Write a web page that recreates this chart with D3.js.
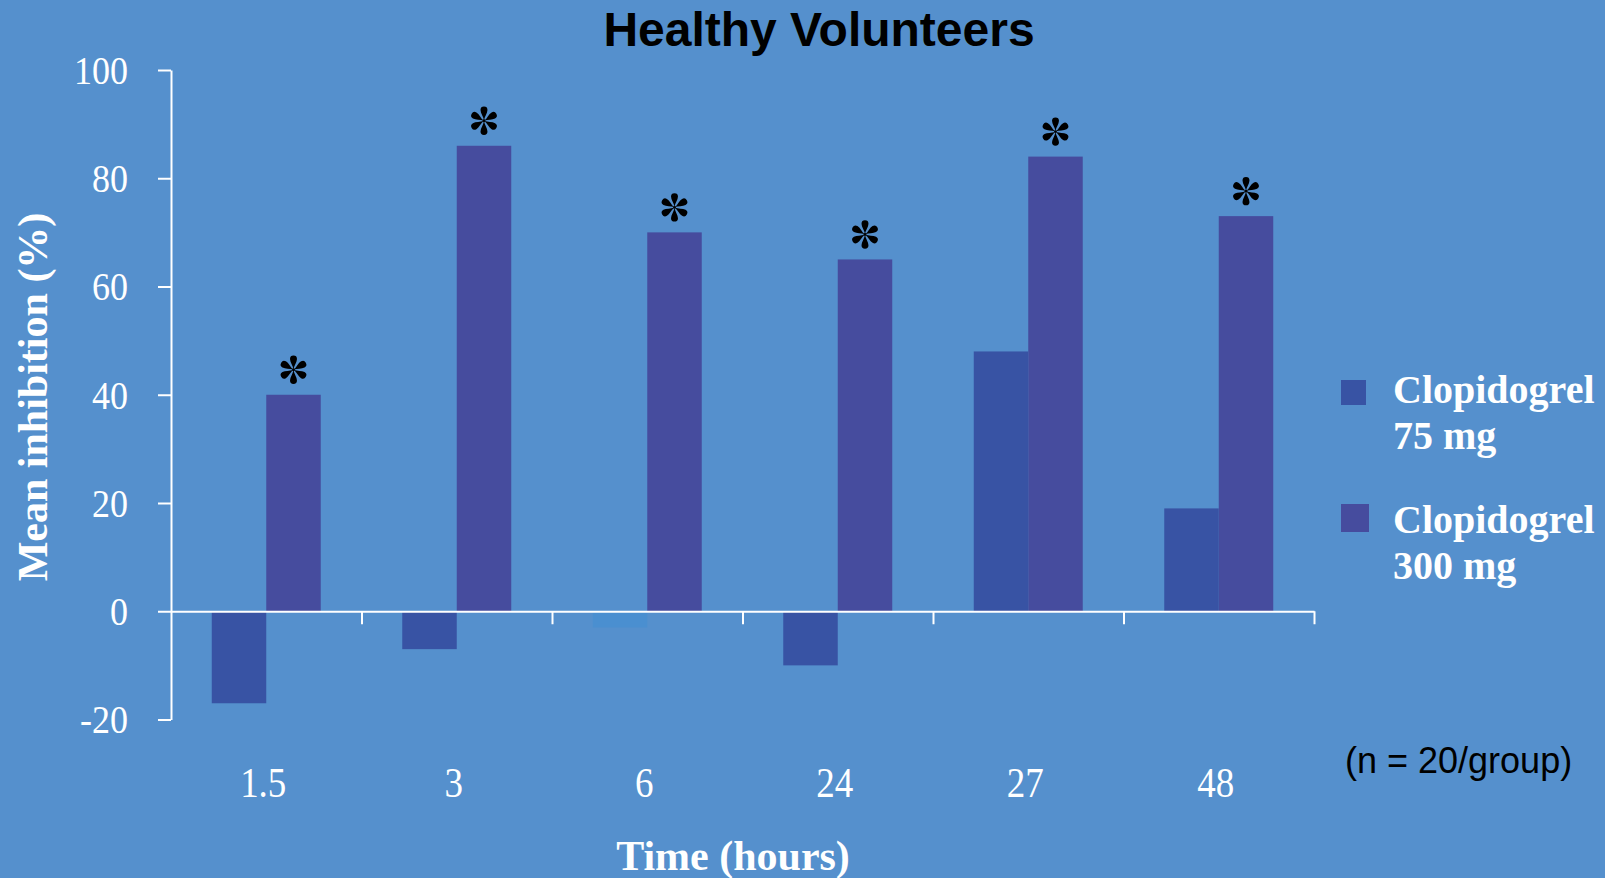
<!DOCTYPE html>
<html>
<head>
<meta charset="utf-8">
<script src="https://cdn.jsdelivr.net/npm/d3@7"></script>
<style>
  html, body { margin: 0; padding: 0; background: #5590cd; }
  svg { display: block; }
</style>
</head>
<body>
<svg id="chart" width="1605" height="878"></svg>
<script>
// Mean inhibition of platelet aggregation by time point and loading dose
const timepoints = ["1.5", "3", "6", "24", "27", "48"];
const dose75 = [-17, -7, -3, -10, 48, 19];
const dose300 = [40, 86, 70, 65, 84, 73];
const significant300 = [true, true, true, true, true, true];
const yTicks = [-20, 0, 20, 40, 60, 80, 100];
const seriesNames = ["Clopidogrel 75 mg", "Clopidogrel 300 mg"];

const W = 1605, H = 878;
const BG = "#5590cd";
const C75 = "#3853a4";
const C300 = "#464c9e";
const C75_FAINT = "#4a8fd0";   // the 6 h bar is rendered in a paler tone
const serif = "'Liberation Serif', 'Times New Roman', serif";
const sans = "'Liberation Sans', Arial, sans-serif";

const svg = d3.select("#chart");
svg.append("rect").attr("width", W).attr("height", H).attr("fill", BG);

const plot = { left: 171, right: 1314, top: 70, bottom: 719.5 };

const x = d3.scaleBand().domain(timepoints).range([plot.left, plot.right]).paddingInner(0).paddingOuter(0);
const xSub = d3.scaleBand().domain(["75", "300"]).range([0, x.bandwidth()]).paddingInner(0).paddingOuter(0.748);
const y = d3.scaleLinear().domain([-20, 100]).range([plot.bottom, plot.top]);

const rows = timepoints.map((t, i) => ({ t, v75: dose75[i], v300: dose300[i], sig: significant300[i] }));

// bars
const g = svg.append("g");
const groups = g.selectAll("g.grp").data(rows).join("g").attr("class", "grp")
  .attr("transform", d => `translate(${x(d.t)},0)`);

groups.append("rect")
  .attr("x", xSub("75")).attr("width", xSub.bandwidth())
  .attr("y", d => y(Math.max(0, d.v75)))
  .attr("height", d => Math.abs(y(d.v75) - y(0)))
  .attr("fill", d => d.t === "6" ? C75_FAINT : C75);

groups.append("rect")
  .attr("x", xSub("300")).attr("width", xSub.bandwidth())
  .attr("y", d => y(Math.max(0, d.v300)))
  .attr("height", d => Math.abs(y(d.v300) - y(0)))
  .attr("fill", C300);

// significance markers: six teardrop lobes
const lobe = "M0,-0.5 C-0.5,-3.5 -3.1,-6.8 -3.1,-9.6 A3.1,3.1 0 0 1 3.1,-9.6 C3.1,-6.8 0.5,-3.5 0,-0.5Z";
const star = groups.filter(d => d.sig).append("g")
  .attr("transform", d => `translate(${xSub("300") + xSub.bandwidth() / 2},${y(d.v300) - 25}) scale(1.12)`);
d3.range(6).forEach(k => {
  star.append("path").attr("d", lobe).attr("fill", "#000").attr("transform", `rotate(${k * 60})`);
});
star.append("circle").attr("r", 1.3).attr("fill", "#000");

// y axis
const yAxis = d3.axisLeft(y).tickValues(yTicks).tickSize(13).tickSizeOuter(0).tickPadding(30).tickFormat(d => String(d));
const gy = svg.append("g").attr("transform", `translate(${plot.left},0)`).call(yAxis);
gy.select(".domain").attr("stroke", "#fff").attr("stroke-width", 2);
gy.selectAll(".tick line").attr("stroke", "#fff").attr("stroke-width", 2);
gy.selectAll(".tick text").attr("fill", "#fff").attr("font-family", serif).attr("font-size", 36)
  .attr("dy", "0.34em").attr("transform", "scale(1,1.1)");

// x axis along zero, ticks at band boundaries
const xb = d3.scaleLinear().domain([0, timepoints.length]).range([plot.left, plot.right]);
const xAxis = d3.axisBottom(xb).tickValues(d3.range(1, timepoints.length + 1)).tickSize(13).tickSizeOuter(0).tickFormat("");
const gx = svg.append("g").attr("transform", `translate(0,${y(0)})`).call(xAxis);
gx.select(".domain").attr("stroke", "#fff").attr("stroke-width", 2);
gx.selectAll(".tick line").attr("stroke", "#fff").attr("stroke-width", 2);

// category labels
svg.append("g").selectAll("text").data(timepoints).join("text")
  .attr("transform", d => `translate(${x(d) + x.bandwidth() / 2 - 3},797) scale(1,1.13)`)
  .attr("text-anchor", "middle")
  .attr("font-family", serif).attr("font-size", 37).attr("fill", "#fff")
  .text(d => d);

// titles
svg.append("text").attr("x", 819).attr("y", 46).attr("text-anchor", "middle")
  .attr("font-family", sans).attr("font-weight", "bold").attr("font-size", 48).attr("fill", "#000")
  .text("Healthy Volunteers");

svg.append("text").attr("x", 733).attr("y", 870).attr("text-anchor", "middle")
  .attr("font-family", serif).attr("font-weight", "bold").attr("font-size", 42).attr("fill", "#fff")
  .text("Time (hours)");

svg.append("text").attr("transform", "translate(47,397) rotate(-90)").attr("text-anchor", "middle")
  .attr("font-family", serif).attr("font-weight", "bold").attr("font-size", 42).attr("fill", "#fff")
  .text("Mean inhibition (%)");

// legend
const legend = [
  { name: seriesNames[0], color: C75, sq: 25, sy: 380, base: 403 },
  { name: seriesNames[1], color: C300, sq: 28, sy: 504, base: 533 }
];
const lg = svg.append("g");
legend.forEach(l => {
  lg.append("rect").attr("x", 1341).attr("y", l.sy).attr("width", l.sq).attr("height", l.sq).attr("fill", l.color);
  const parts = l.name.split(" ");
  const t = lg.append("text").attr("font-family", serif).attr("font-weight", "bold").attr("font-size", 40).attr("fill", "#fff");
  t.append("tspan").attr("x", 1393).attr("y", l.base).text(parts[0]);
  t.append("tspan").attr("x", 1393).attr("y", l.base + 46).text(parts.slice(1).join(" "));
});

svg.append("text").attr("x", 1345).attr("y", 773)
  .attr("font-family", sans).attr("font-size", 36).attr("fill", "#000")
  .text("(n = 20/group)");
</script>
</body>
</html>
